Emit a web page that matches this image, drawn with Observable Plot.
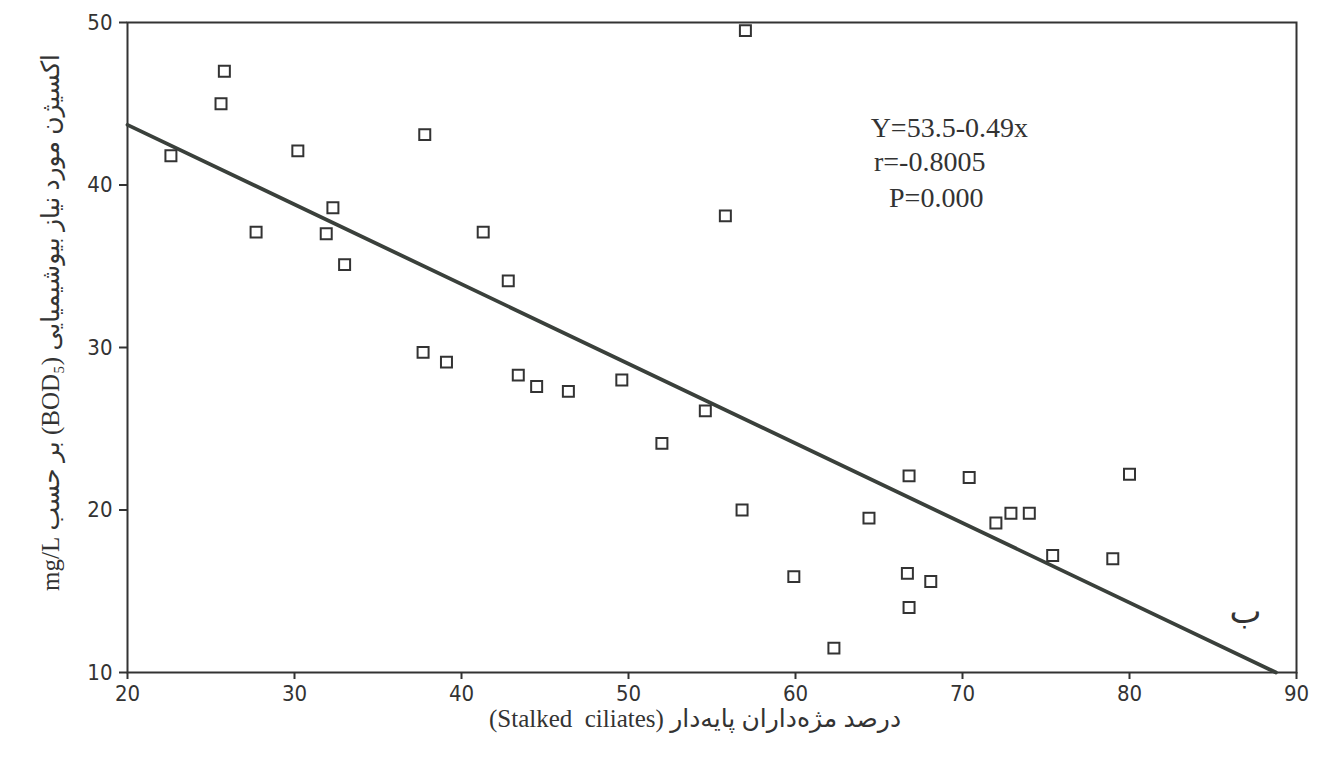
<!DOCTYPE html>
<html>
<head>
<meta charset="utf-8">
<script src="https://cdn.jsdelivr.net/npm/d3@7"></script>
<script src="https://cdn.jsdelivr.net/npm/@observablehq/plot@0.6"></script>
<style>
  html, body { margin: 0; padding: 0; background: #fff; }
</style>
</head>
<body>
<div id="chart"></div>
<script>
// Stalked ciliates (%) vs BOD5 (mg/L)
const stalkedPct = [22.6, 25.6, 25.8, 27.7, 30.2, 32.3, 31.9, 33.0, 37.8, 37.7, 39.1, 41.3, 42.8, 43.4, 44.5, 46.4, 49.6, 52.0, 54.6, 55.8, 57.0, 56.8, 59.9, 62.3, 64.4, 66.8, 66.7, 66.8, 68.1, 70.4, 72.0, 72.9, 74.0, 75.4, 79.0, 80.0];
const bod5 = [41.8, 45.0, 47.0, 37.1, 42.1, 38.6, 37.0, 35.1, 43.1, 29.7, 29.1, 37.1, 34.1, 28.3, 27.6, 27.3, 28.0, 24.1, 26.1, 38.1, 49.5, 20.0, 15.9, 11.5, 19.5, 22.1, 16.1, 14.0, 15.6, 22.0, 19.2, 19.8, 19.8, 17.2, 17.0, 22.2];

// Fitted line as printed: Y = 53.5 - 0.49x, drawn from x = 20 until it meets y = 10
const fitIntercept = 53.5;
const fitSlope = -0.49;
const fitXStart = 20;
const fitYEnd = 10;

const xTicks = [20, 30, 40, 50, 60, 70, 80, 90];
const yTicks = [10, 20, 30, 40, 50];

const statLines = ["Y=53.5-0.49x", "r=-0.8005", "P=0.000"];
const statX = [64.5, 64.7, 65.6];
const statY = [43.5, 41.4, 39.2];

const panelLetter = "ب";
const panelX = 86.95;
const panelY = 13.7;

const RLE = "\u202B", PDF = "\u202C";
const xLabel = RLE + "درصد مژه‌داران پایه‌دار (Stalked  ciliates)" + PDF;
const yLabel = RLE + "اکسیژن مورد نیاز بیوشیمیایی (BOD₅) بر حسب mg/L" + PDF;

const points = stalkedPct.map((x, i) => ({x, y: bod5[i]}));
const fitXEnd = (fitYEnd - fitIntercept) / fitSlope;
const fit = [fitXStart, fitXEnd].map(x => ({x, y: fitIntercept + fitSlope * x}));
const stats = statLines.map((t, i) => ({t, x: statX[i], y: statY[i]}));

const ink = "#333333";
const tickFont = "'DejaVu Sans Condensed', 'DejaVu Sans', sans-serif";
const serifFont = "'Liberation Serif', 'DejaVu Serif', 'DejaVu Sans', serif";

const chart = Plot.plot({
  width: 1319,
  height: 758,
  marginLeft: 127,
  marginRight: 23,
  marginTop: 22,
  marginBottom: 86,
  style: {background: "#fff", color: ink, fontFamily: tickFont},
  x: {domain: [20, 90]},
  y: {domain: [10, 50]},
  marks: [
    Plot.axisX({ticks: xTicks, tickSize: 7, tickPadding: 6, label: null, fontSize: 22, fontFamily: tickFont, stroke: ink, strokeWidth: 2}),
    Plot.axisY({ticks: yTicks, tickSize: 8, tickPadding: 7, label: null, fontSize: 22, fontFamily: tickFont, stroke: ink, strokeWidth: 2}),
    Plot.frame({stroke: ink, strokeWidth: 2}),
    Plot.line(fit, {x: "x", y: "y", stroke: "#3a403b", strokeWidth: 3.8}),
    Plot.dot(points, {x: "x", y: "y", symbol: "square", r: 6.2, fill: "#fff", stroke: ink, strokeWidth: 2}),
    Plot.text(stats, {x: "x", y: "y", text: "t", textAnchor: "start", fontSize: 28, fontFamily: serifFont, fill: ink}),
    Plot.text([panelLetter], {x: panelX, y: panelY, text: d => d, fontSize: 34, fontFamily: serifFont, fill: ink}),
    Plot.text([xLabel], {frameAnchor: "bottom", text: d => d, textAnchor: "middle", dx: -17, dy: 46, lineAnchor: "middle", fontSize: 25, fontFamily: serifFont, fill: ink}),
    Plot.text([yLabel], {frameAnchor: "left", text: d => d, textAnchor: "middle", rotate: -90, dx: -77, dy: -25, lineAnchor: "middle", fontSize: 25, fontFamily: serifFont, fill: ink})
  ]
});
document.getElementById("chart").appendChild(chart);
</script>
</body>
</html>
